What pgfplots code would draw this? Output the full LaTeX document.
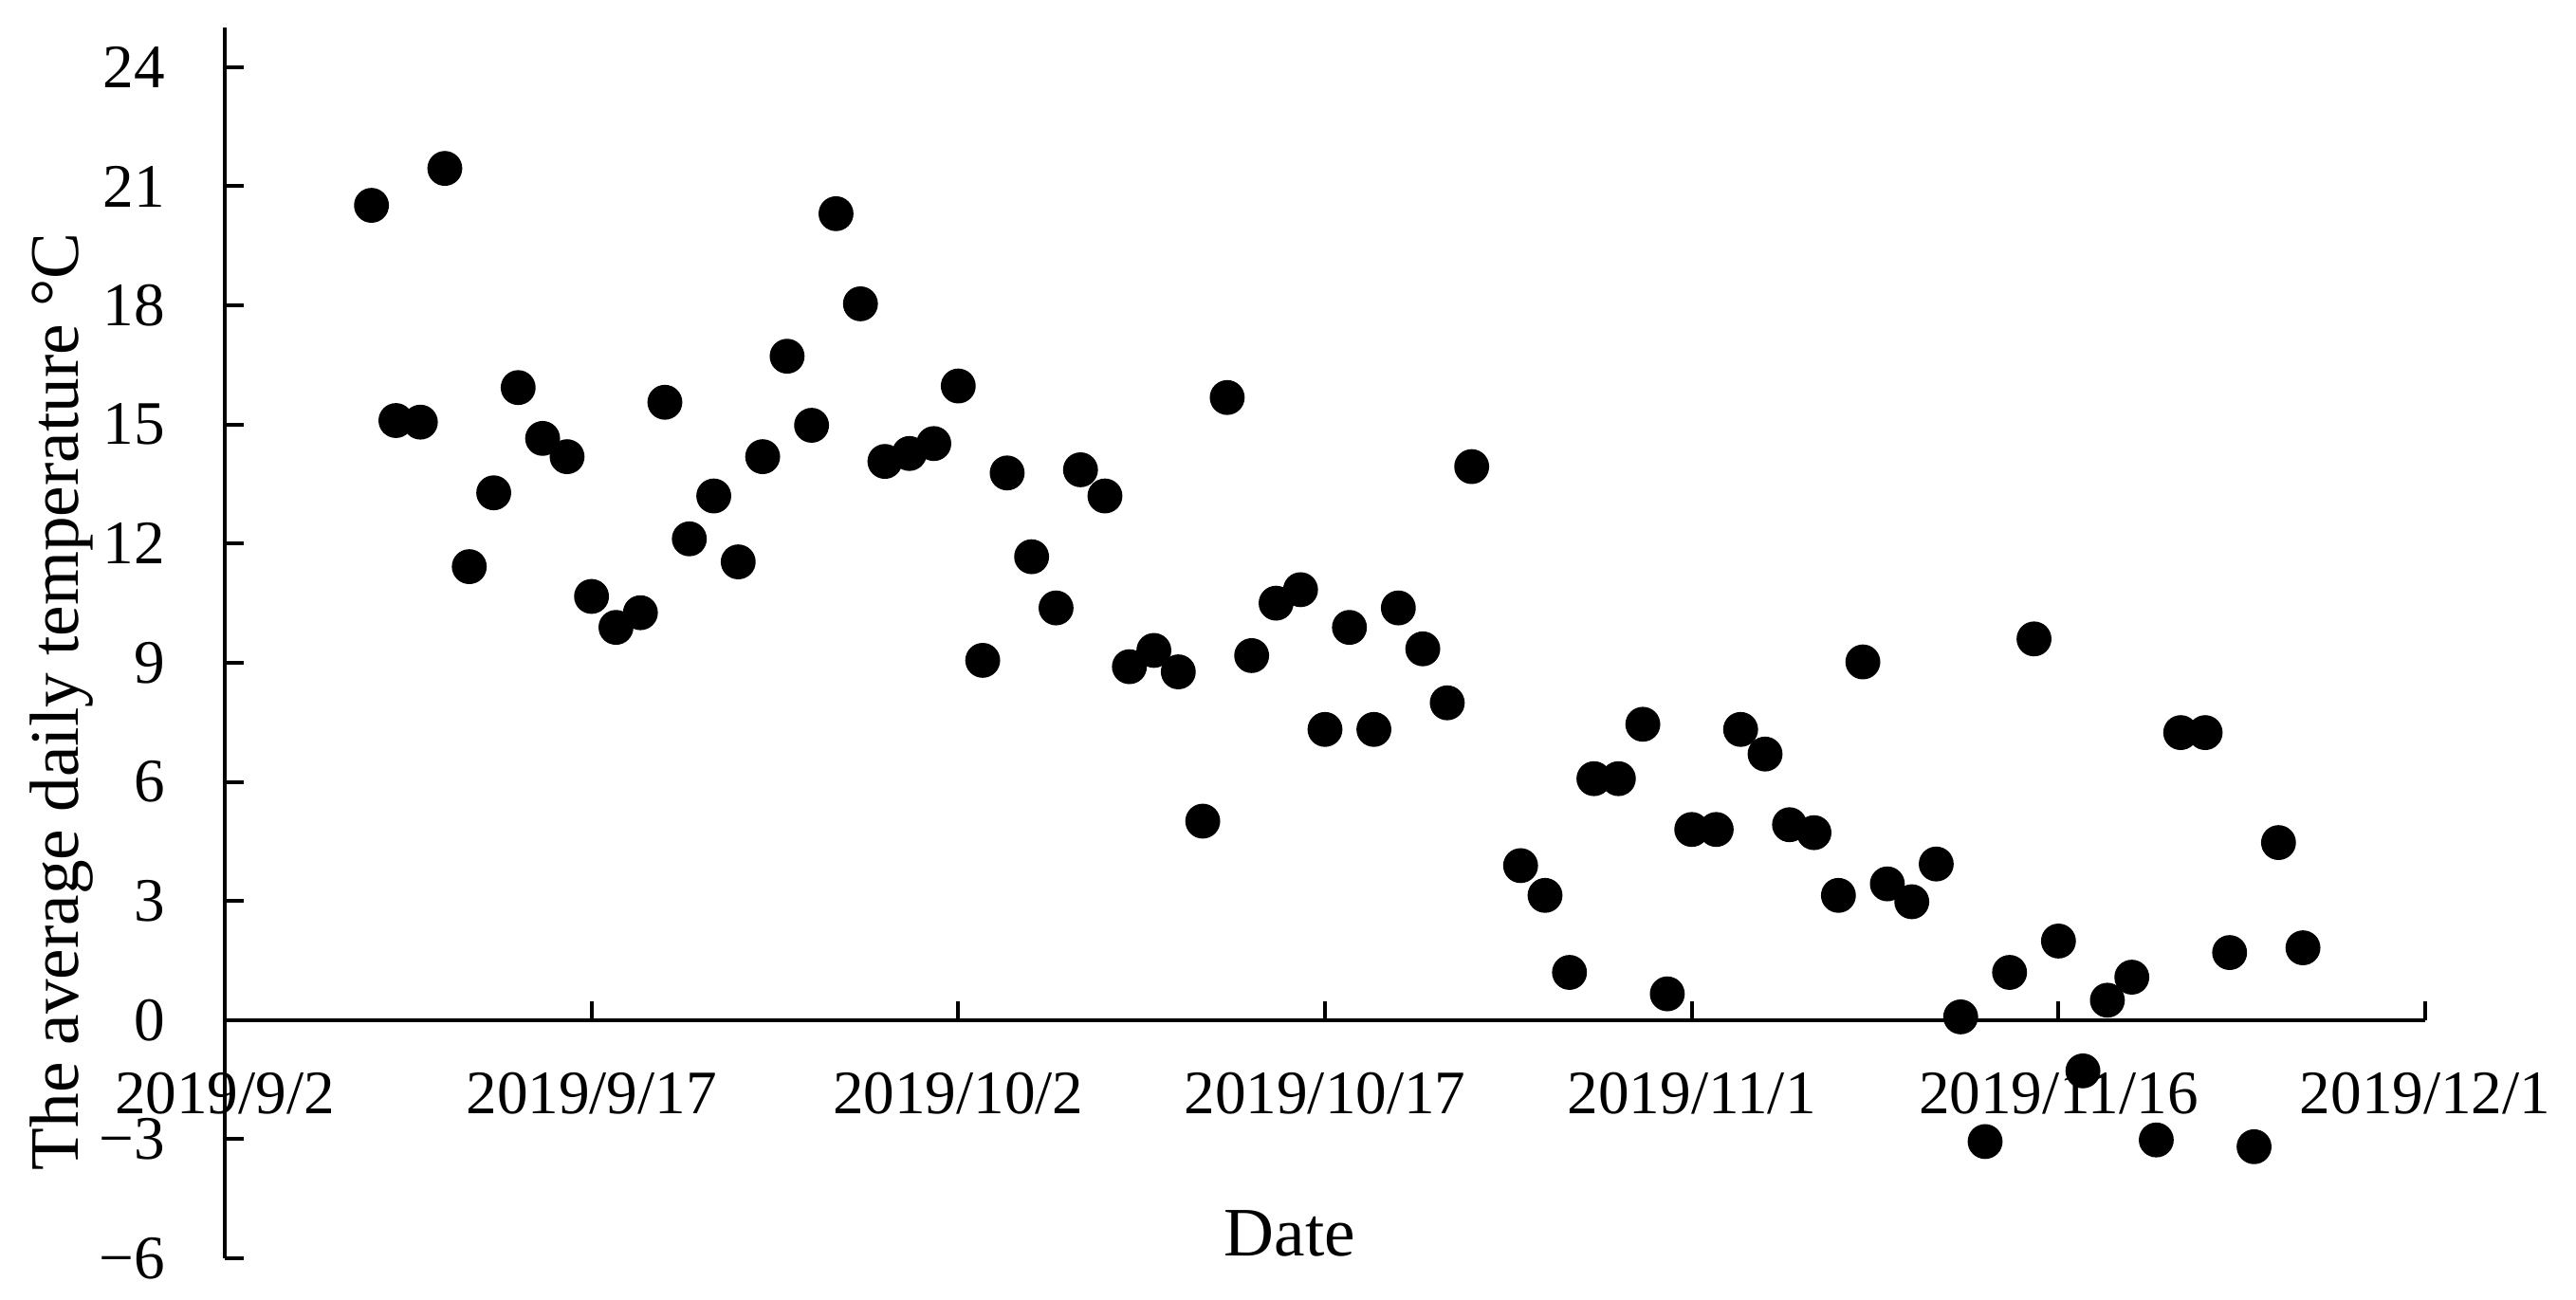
\documentclass[border=0pt]{standalone}
\usepackage{fontspec}
\setmainfont{Liberation Serif}
\usepackage{pgfplots}
\pgfplotsset{compat=1.18}
\pgfplotstableread{
day temp
6 20.52
7 15.10
8 15.06
9 21.45
10 11.42
11 13.28
12 15.93
13 14.65
14 14.19
15 10.67
16 9.89
17 10.26
18 15.56
19 12.12
20 13.20
21 11.54
22 14.19
23 16.72
24 14.98
25 20.31
26 18.04
27 14.07
28 14.27
29 14.52
30 15.97
31 9.06
32 13.78
33 11.67
34 10.38
35 13.86
36 13.20
37 8.90
38 9.31
39 8.77
40 5.01
41 15.68
42 9.18
43 10.50
44 10.84
45 7.32
46 9.89
47 7.32
48 10.38
49 9.35
50 7.99
51 13.94
53 3.89
54 3.14
55 1.20
56 6.08
57 6.08
58 7.45
59 0.66
60 4.80
61 4.80
62 7.32
63 6.70
64 4.92
65 4.72
66 3.14
67 9.02
68 3.43
69 2.98
70 3.93
71 0.08
72 -3.06
73 1.20
74 9.60
75 1.99
76 -1.28
77 0.50
78 1.08
79 -3.02
80 7.24
81 7.24
82 1.70
83 -3.19
84 4.47
85 1.82
}\tempdata
\begin{document}
\begin{tikzpicture}
\begin{axis}[
  scale only axis, width=580pt, height=324.5pt,
  xmin=0, xmax=90, ymin=-6, ymax=25,
  axis x line=middle, axis y line=left,
  axis line style={-, line width=1pt, black},
  hide obscured x ticks=false, hide obscured y ticks=false,
  clip=false,
  xtick={0,15,30,45,60,75,90},
  xticklabels={2019/9/2,2019/9/17,2019/10/2,2019/10/17,2019/11/1,2019/11/16,2019/12/1},
  ytick={-6,-3,0,3,6,9,12,15,18,21,24},
  yticklabels={−6,−3,0,3,6,9,12,15,18,21,24},
  tick align=inside, major tick length=5pt,
  tick style={line width=1pt, black},
  xticklabel style={font=\fontsize{16.3pt}{19pt}\selectfont, anchor=base, yshift=-24.75pt},
  yticklabel style={font=\fontsize{16.3pt}{19pt}\selectfont, anchor=east, inner sep=0pt, xshift=-15.5pt},
  xlabel={Date},
  xlabel style={font=\fontsize{18.3pt}{22pt}\selectfont, at={(axis description cs:0.484,0.0023)}, anchor=base},
  ylabel={The average daily temperature °C},
  ylabel style={font=\fontsize{18.3pt}{22pt}\selectfont, at={(axis description cs:-0.06647,0.4522)}, anchor=base, rotate=0},
]
\addplot[only marks, mark=*, mark size=4.4pt, mark options={fill=black, draw=black}] table[x=day, y=temp] {\tempdata};
\end{axis}
\path (current axis.south west) ++(-59.25pt,-10.75pt) coordinate (bl);
\path (current axis.north east) ++(39.75pt,7.25pt) coordinate (tr);
\pgfresetboundingbox
\path (bl) rectangle (tr);
\end{tikzpicture}
\end{document}
